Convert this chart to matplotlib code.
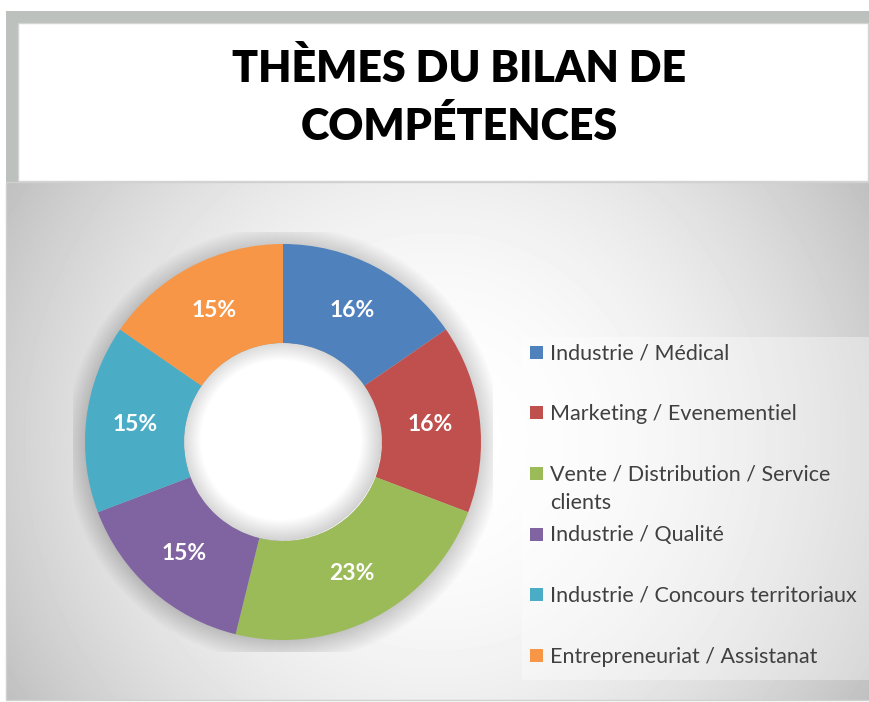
import numpy as np
import matplotlib
matplotlib.use("Agg")
import matplotlib.pyplot as plt
from matplotlib.patches import Rectangle, Circle, Wedge

# Data (shares, labels as printed on the chart)
categories = [
    "Industrie / Médical",
    "Marketing / Evenementiel",
    "Vente / Distribution / Service\nclients",
    "Industrie / Qualité",
    "Industrie / Concours territoriaux",
    "Entrepreneuriat / Assistanat",
]
shares = [15.4, 15.4, 23.1, 15.4, 15.4, 15.4]
pct_labels = ["16%", "16%", "23%", "15%", "15%", "15%"]
colors = ["#4F81BD", "#C0504D", "#9BBB59", "#8064A2", "#4BACC6", "#F79646"]
title_lines = ["THÈMES DU BILAN DE", "COMPÉTENCES"]

plt.rcParams["font.family"] = ["Lato", "DejaVu Sans"]

W, H = 870, 702
fig = plt.figure(figsize=(W / 100, H / 100), dpi=100)
fig.patch.set_facecolor("white")

# background layer in pixel coordinates
bg = fig.add_axes([0, 0, 1, 1])
bg.set_xlim(0, W)
bg.set_ylim(H, 0)
bg.axis("off")

# grey frame behind the title box
bg.add_patch(Rectangle((6, 11), 880, 172, facecolor="#bcc1bd", edgecolor="none", zorder=0))

# radial gradient under the chart
x0, x1, y0, y1 = 6, 870, 182, 700
xx, yy = np.meshgrid(np.arange(x0, x1), np.arange(y0, y1))
cx, cy = (x0 + x1) / 2, (y0 + y1) / 2
r = np.hypot(xx - cx, yy - cy) / np.hypot(x1 - cx, y1 - cy)
shade = 1 - 0.25 * np.clip(r, 0, 1) ** 2
bg.imshow(shade, cmap="gray", vmin=0, vmax=1, extent=[x0, x1, y1, y0],
          aspect="auto", interpolation="bilinear", zorder=1)
bg.add_patch(Rectangle((x0, y0), x1 - x0 + 10, y1 - y0, facecolor="none",
                       edgecolor="#d0d0d0", lw=1, zorder=2))

# title box
bg.add_patch(Rectangle((18, 23), 850, 158, facecolor="white", edgecolor="#d4d4d4",
                       lw=1, zorder=3))
for i, line in enumerate(title_lines):
    bg.text(459, 82 + 58 * i, line, ha="center", va="baseline", fontsize=31,
            fontweight="heavy", color="black", zorder=4)

# legend box + entries
bg.add_patch(Rectangle((522, 337), 360, 343, facecolor="white", alpha=0.35,
                       edgecolor="none", zorder=3))
row_y = 352
for name, col in zip(categories, colors):
    bg.add_patch(Rectangle((530, row_y - 6.5), 13, 13, facecolor=col, edgecolor="none", zorder=4))
    for j, part in enumerate(name.split("\n")):
        bg.text(550, row_y + 7 + 29 * j, part, ha="left", va="baseline", fontsize=15.5,
                color="#404040", zorder=4)
    row_y += 60.7

# donut
R_PX = 198
ax = fig.add_axes([(283 - 210) / W, (H - 442 - 210) / H, 420 / W, 420 / H])
ax.axis("off")
ax.patch.set_alpha(0)

# soft shadow outside the ring
for k in range(24):
    ax.add_patch(Circle((0.005, -0.012), 0.99 + 0.005 * k, facecolor="black",
                        alpha=0.008, edgecolor="none", zorder=0))
# hole with inner shadow
ax.add_patch(Circle((0, 0), 0.5, facecolor="white", edgecolor="none", zorder=1))
for k in range(1, 16):
    ax.add_patch(Wedge((-0.01, 0.01), 0.51, 0, 360, width=0.007 * k, facecolor="black",
                       alpha=0.011, edgecolor="none", zorder=1.5))

wedges, texts = ax.pie(shares, colors=colors, startangle=90, counterclock=False,
                       radius=1, labels=pct_labels, labeldistance=0.75,
                       wedgeprops=dict(width=0.5, edgecolor="none"))
for w in wedges:
    w.set_zorder(2)
for t in texts:
    t.set_ha("center")
    t.set_va("center")
    t.set_color("white")
    t.set_fontsize(16.5)
    t.set_fontweight("bold")
    t.set_zorder(3)

lim = 210 / R_PX
ax.set_xlim(-lim, lim)
ax.set_ylim(-lim, lim)
ax.set_aspect("equal")

fig.savefig("out.png", dpi=100)
